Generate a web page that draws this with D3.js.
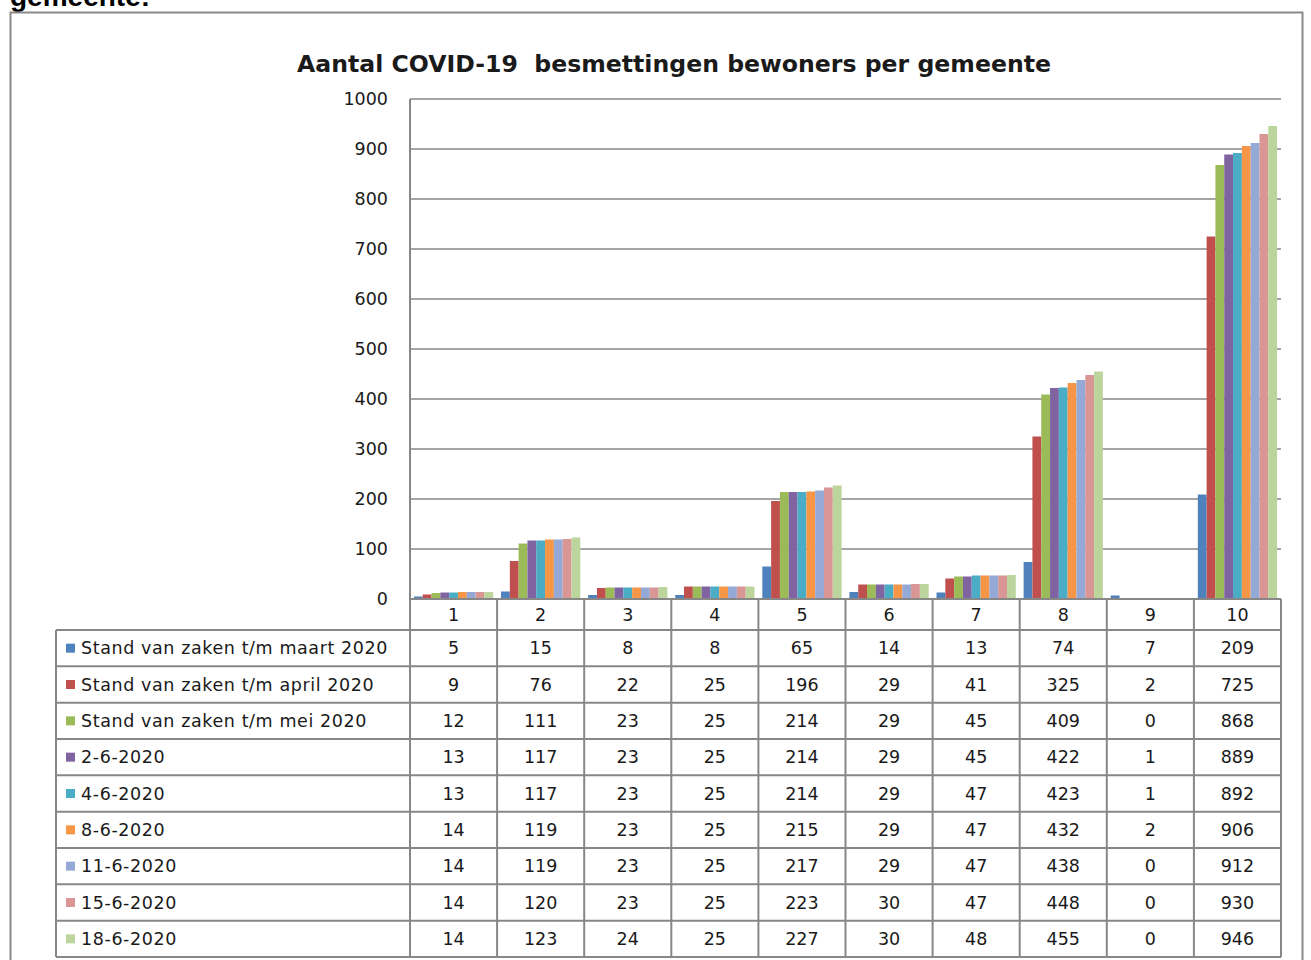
<!DOCTYPE html>
<html><head><meta charset="utf-8">
<script src="https://cdn.jsdelivr.net/npm/d3@7"></script>
<style>body{margin:0;background:#fff} svg{display:block}</style>
</head><body><svg id="c" width="1311" height="960"></svg>
<script>
const categories = ["1","2","3","4","5","6","7","8","9","10"];
const seriesNames = [
  "Stand van zaken t/m maart 2020",
  "Stand van zaken t/m april 2020",
  "Stand van zaken t/m mei 2020",
  "2-6-2020","4-6-2020","8-6-2020","11-6-2020","15-6-2020","18-6-2020"
];
const maart  = [5,15,8,8,65,14,13,74,7,209];
const april  = [9,76,22,25,196,29,41,325,2,725];
const mei    = [12,111,23,25,214,29,45,409,0,868];
const jun2   = [13,117,23,25,214,29,45,422,1,889];
const jun4   = [13,117,23,25,214,29,47,423,1,892];
const jun8   = [14,119,23,25,215,29,47,432,2,906];
const jun11  = [14,119,23,25,217,29,47,438,0,912];
const jun15  = [14,120,23,25,223,30,47,448,0,930];
const jun18  = [14,123,24,25,227,30,48,455,0,946];
const seriesColors = ["#4F81BD","#C0504D","#9BBB59","#8064A2","#4BACC6","#F79646","#95A9D6","#D99694","#BBD59C"];
const yTicks = [0,100,200,300,400,500,600,700,800,900,1000];
const titleText = "Aantal COVID-19  besmettingen bewoners per gemeente";
const headText = "gemeente:";

(function(){
const seriesValues = [maart,april,mei,jun2,jun4,jun8,jun11,jun15,jun18];
const series = seriesNames.map((n,i)=>({name:n, values:seriesValues[i], color:seriesColors[i], idx:i}));

const svg = d3.select("#c");
const FONT = "'DejaVu Sans', Verdana, sans-serif";
const GRID = "#878787";

// surrounding document text + frame
svg.append("text").attr("x",10).attr("y",6)
  .attr("font-family","'Liberation Sans', Arial, sans-serif").attr("font-weight","bold")
  .attr("font-size",28).attr("fill","#000").text(headText);
svg.append("rect").attr("x",10.5).attr("y",12.5).attr("width",1292).attr("height",960)
  .attr("fill","#fff").attr("stroke","#8a8a8a").attr("stroke-width",2);

// title
svg.append("text").attr("x",297).attr("y",72)
  .attr("font-family",FONT).attr("font-weight","bold").attr("font-size",23)
  .attr("textLength",754).attr("lengthAdjust","spacingAndGlyphs")
  .style("white-space","pre").attr("fill","#1a1a1a").text(titleText);

const pLeft = 410, pRight = 1281, pTop = 99, pZero = 599;
const y = d3.scaleLinear().domain([0,1000]).range([pZero,pTop]);
const xc = d3.scaleBand().domain(categories).range([pLeft,pRight]);
const x = d3.scaleBand().domain(categories).range([pLeft,pRight]).paddingInner(0.09).paddingOuter(0.045);
const xs = d3.scaleBand().domain(d3.range(series.length)).range([0,x.bandwidth()]);

// gridlines
svg.append("g").selectAll("line").data(yTicks.filter(t=>t>0)).join("line")
  .attr("x1",pLeft).attr("x2",pRight).attr("y1",d=>y(d)).attr("y2",d=>y(d))
  .attr("stroke",GRID).attr("stroke-width",1.6);

// y axis labels
const ax = svg.append("g").attr("transform",`translate(${pLeft},0)`)
  .call(d3.axisLeft(y).tickValues(yTicks).tickSize(0).tickPadding(22).tickFormat(d3.format("d")));
ax.select(".domain").remove();
ax.selectAll("text").attr("font-family",FONT).attr("font-size",17.5).attr("fill","#1a1a1a");

// bars
svg.append("g").selectAll("g").data(series).join("g").attr("fill",d=>d.color)
  .selectAll("rect").data(s=>s.values.map((v,j)=>({v,cat:categories[j],i:s.idx}))).join("rect")
  .attr("x",d=>x(d.cat)+xs(d.i)).attr("width",xs.bandwidth())
  .attr("y",d=>y(d.v)).attr("height",d=>pZero-y(d.v));

// table
const headBottom = 630, pBottom = 957, labelLeft = 56;
const rowH = (pBottom-headBottom)/series.length;
const tg = svg.append("g");
tg.append("line").attr("x1",pLeft).attr("x2",pRight).attr("y1",pZero).attr("y2",pZero).attr("stroke",GRID).attr("stroke-width",2);
tg.selectAll("line.h").data(d3.range(series.length+1)).join("line").attr("class","h")
  .attr("x1",labelLeft).attr("x2",pRight)
  .attr("y1",i=>headBottom+i*rowH).attr("y2",i=>headBottom+i*rowH)
  .attr("stroke",GRID).attr("stroke-width",2);
tg.append("line").attr("x1",pLeft).attr("x2",pLeft).attr("y1",pTop).attr("y2",pBottom).attr("stroke",GRID).attr("stroke-width",2);
tg.append("line").attr("x1",labelLeft).attr("x2",labelLeft).attr("y1",headBottom).attr("y2",pBottom).attr("stroke",GRID).attr("stroke-width",2);
tg.selectAll("line.v").data(categories).join("line").attr("class","v")
  .attr("x1",d=>xc(d)+xc.bandwidth()).attr("x2",d=>xc(d)+xc.bandwidth())
  .attr("y1",pZero).attr("y2",pBottom).attr("stroke",GRID).attr("stroke-width",2);

tg.selectAll("text.cat").data(categories).join("text").attr("class","cat")
  .attr("x",d=>xc(d)+xc.bandwidth()/2).attr("y",(pZero+headBottom)/2+1)
  .attr("text-anchor","middle").attr("dominant-baseline","middle")
  .attr("font-family",FONT).attr("font-size",17.5).attr("fill","#1a1a1a").text(d=>d);

const rows = tg.selectAll("g.row").data(series).join("g").attr("class","row")
  .attr("transform",d=>`translate(0,${headBottom+d.idx*rowH+rowH/2})`);
rows.append("rect").attr("x",66).attr("y",-4.5).attr("width",9).attr("height",9).attr("fill",d=>d.color);
rows.append("text").attr("x",81).attr("y",1).attr("dominant-baseline","middle")
  .attr("font-family",FONT).attr("font-size",17.5).attr("letter-spacing",0.6).attr("fill","#1a1a1a").text(d=>d.name);
rows.selectAll("text.val").data(d=>d.values.map((v,j)=>({v,cat:categories[j]}))).join("text").attr("class","val")
  .attr("x",d=>xc(d.cat)+xc.bandwidth()/2).attr("y",1)
  .attr("text-anchor","middle").attr("dominant-baseline","middle")
  .attr("font-family",FONT).attr("font-size",17.5).attr("fill","#1a1a1a").text(d=>d.v);
})();
</script></body></html>
